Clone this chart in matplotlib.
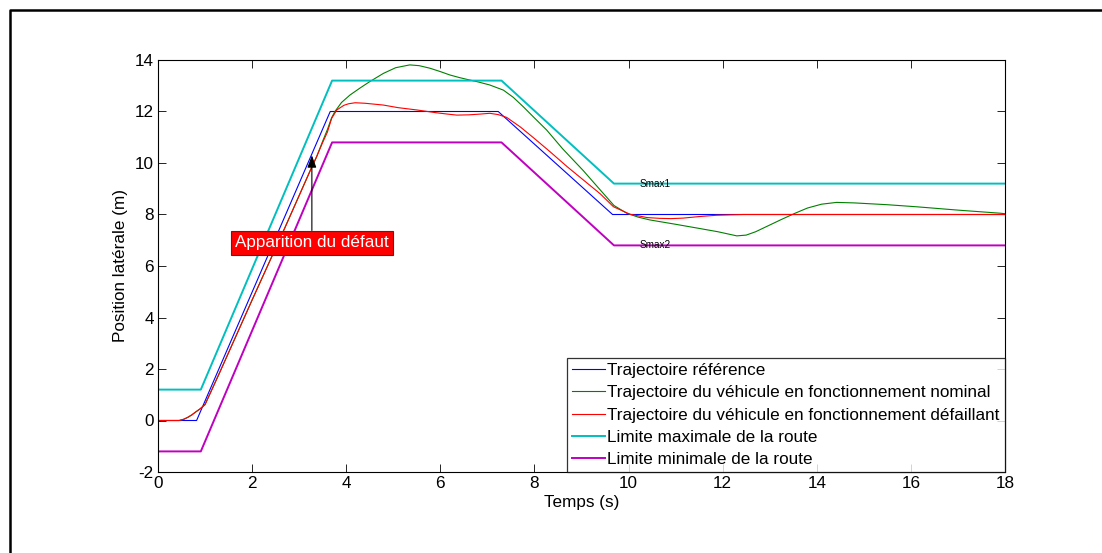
import matplotlib
matplotlib.use("Agg")
import matplotlib.pyplot as plt
from matplotlib.lines import Line2D

plt.rcParams['font.family'] = ['Liberation Sans', 'DejaVu Sans']
plt.rcParams['axes.unicode_minus'] = False

# ---------------- data ----------------
t_ref = [0, 0.82, 3.66, 7.23, 9.66, 18]
y_ref = [0, 0, 12, 12, 8, 8]

t_lim = [0, 0.91, 3.70, 7.30, 9.69, 18]
y_max = [1.2, 1.2, 13.2, 13.2, 9.2, 9.2]
y_min = [-1.2, -1.2, 10.8, 10.8, 6.8, 6.8]

t_nom = [0, 0.45, 0.55, 0.64, 0.72, 0.8, 0.9, 1.0, 1.3, 2.0, 2.7, 3.27, 3.37,
         3.5, 3.6, 3.69, 3.76, 3.9, 4.08, 4.3, 4.5, 4.79, 5.05, 5.35, 5.55,
         5.78, 6.0, 6.2, 6.4, 6.56, 6.8, 7.05, 7.34, 7.55, 7.76, 8.0, 8.26,
         8.6, 9.04, 9.4, 9.69, 9.96, 10.2, 10.45, 11.0, 11.5, 11.9, 12.1, 12.3,
         12.5, 12.7, 12.93, 13.24, 13.54, 13.8, 14.1, 14.42, 14.8, 15.5, 16.12,
         17.0, 17.9, 18]
y_nom = [0, 0, 0.05, 0.13, 0.22, 0.33, 0.46, 0.62, 1.82, 4.68, 7.5, 9.85, 10.24,
         10.85, 11.3, 11.76, 12.0, 12.35, 12.64, 12.92, 13.16, 13.48, 13.7, 13.81, 13.78,
         13.68, 13.55, 13.42, 13.32, 13.25, 13.15, 13.03, 12.83, 12.55, 12.19, 11.75, 11.28,
         10.55, 9.7, 8.95, 8.35, 8.05, 7.9, 7.79, 7.62, 7.46, 7.33, 7.25, 7.17,
         7.2, 7.33, 7.53, 7.8, 8.05, 8.25, 8.4, 8.47, 8.45, 8.38, 8.30,
         8.17, 8.05, 8.03]

t_def = [0, 0.45, 0.55, 0.64, 0.72, 0.8, 0.9, 1.0, 1.3, 2.0, 2.7, 3.27, 3.37,
         3.5, 3.6, 3.69, 3.8, 3.95, 4.05, 4.19, 4.4, 4.79, 5.1, 5.5, 5.92,
         6.15, 6.35, 6.6, 6.85, 7.05, 7.23, 7.41, 7.7, 8.0, 8.33, 8.7, 9.04,
         9.4, 9.68, 10.03, 10.4, 10.67, 10.9, 11.16, 11.5, 11.87, 12.43, 18]
y_def = [0, 0, 0.05, 0.13, 0.22, 0.33, 0.46, 0.62, 1.82, 4.68, 7.5, 9.85, 10.24,
         10.8, 11.2, 11.73, 12.06, 12.24, 12.3, 12.34, 12.32, 12.25, 12.15, 12.06, 11.95,
         11.9, 11.86, 11.87, 11.9, 11.93, 11.88, 11.77, 11.4, 10.95, 10.44, 9.85, 9.34,
         8.8, 8.30, 8.01, 7.88, 7.85, 7.84, 7.86, 7.92, 7.97, 8.0, 8.0]

labels = ['Trajectoire référence',
          'Trajectoire du véhicule en fonctionnement nominal',
          'Trajectoire du véhicule en fonctionnement défaillant',
          'Limite maximale de la route',
          'Limite minimale de la route']

x_ticks = [0, 2, 4, 6, 8, 10, 12, 14, 16, 18]
y_ticks = [-2, 0, 2, 4, 6, 8, 10, 12, 14]

FS = 12.3

# ---------------- figure ----------------
W, H = 1102, 553
fig = plt.figure(figsize=(W / 100, H / 100), dpi=100)
fig.patch.set_facecolor('white')

# outer frame (top + left edges visible)
fig.add_artist(Line2D([10 / W, 10 / W, 1.0], [0.0, 1 - 10 / H, 1 - 10 / H],
                      transform=fig.transFigure, color='black', lw=1.8))

ax = fig.add_axes([158 / W, (H - 472) / H, (1005 - 158) / W, (472 - 60) / H])

ax.plot(t_ref, y_ref, color=(0, 0, 1), lw=0.8, label=labels[0])
ax.plot(t_nom, y_nom, color=(0, 0.5, 0), lw=0.8, label=labels[1])
ax.plot(t_def, y_def, color=(1, 0, 0), lw=0.8, label=labels[2])
ax.plot(t_lim, y_max, color=(0, 0.75, 0.75), lw=1.4, label=labels[3])
ax.plot(t_lim, y_min, color=(0.75, 0, 0.75), lw=1.4, label=labels[4])

ax.set_xlim(0, 18)
ax.set_ylim(-2, 14)
ax.set_xticks(x_ticks)
ax.set_yticks(y_ticks)
ax.tick_params(direction='in', length=6, width=0.6, top=True, right=True,
               labelsize=FS, pad=3, colors='black')
for s in ax.spines.values():
    s.set_linewidth(0.8)

ax.set_xlabel('Temps (s)', fontsize=FS, labelpad=2.5)
ax.set_ylabel('Position latérale (m)', fontsize=FS, labelpad=5)

ax.text(10.23, 9.2, 'Smax1', fontsize=7.2, ha='left', va='center')
ax.text(10.24, 6.8, 'Smax2', fontsize=7.2, ha='left', va='center')

ax.annotate('Apparition du défaut', xy=(3.27, 10.3), xytext=(3.27, 6.9),
            ha='center', va='center', fontsize=FS, color='white',
            bbox=dict(boxstyle='square,pad=0.26', fc=(1, 0, 0), ec='#333333', lw=0.8),
            arrowprops=dict(arrowstyle='-|>,head_length=0.6,head_width=0.22',
                            color='#555555', lw=0.8, fc='black', ec='black',
                            shrinkA=0, shrinkB=0))

leg = ax.legend(loc='lower right', fontsize=FS, frameon=True, fancybox=False,
                borderaxespad=0, handlelength=1.9, handletextpad=0.15,
                borderpad=0.3, labelspacing=0.42)
leg.get_frame().set_edgecolor('black')
leg.get_frame().set_linewidth(0.9)

fig.savefig('out.png', dpi=100, facecolor='white')
